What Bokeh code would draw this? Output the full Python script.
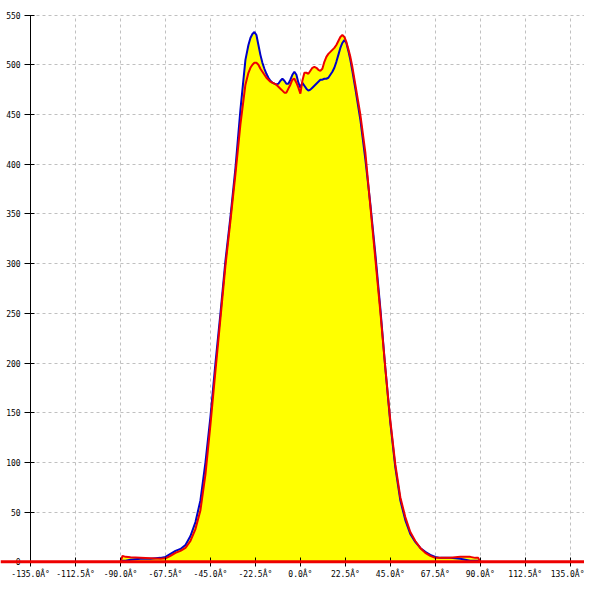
from bokeh.plotting import figure
from bokeh.models import FixedTicker, Span, Range1d
from bokeh.embed import file_html
from bokeh.resources import INLINE

# ---- data ----
angles = [-90, -89, -87.5, -85, -80, -75, -70, -67.5, -65, -62.5, -60, -57.5, -55, -52.5,
          -50, -47.5, -45, -42.5, -40, -37.5, -35, -32.5, -30, -27.5, -26, -25, -24, -23,
          -22, -21, -20, -19, -18, -17, -16, -15, -14, -13, -12, -11, -10, -9, -8, -7,
          -6, -5, -4, -3, -2, -1, 0, 1, 2, 3, 4, 5, 6, 7, 8, 9, 10, 11, 12, 13, 14, 15,
          16, 17, 18, 19, 20, 21, 22, 23, 24, 25, 26, 27.5, 30, 32.5, 35, 37.5, 40, 42.5,
          45, 47.5, 50, 52.5, 55, 57.5, 60, 62.5, 65, 67.5, 70, 75, 80, 85, 87.5, 89, 90]

blue_vals = [0, 1, 1, 2, 3, 3, 4, 5, 8, 11, 13, 17, 26, 40,
             62, 100, 146, 200, 250, 303, 347, 396, 455, 505, 520, 527, 531, 533,
             530, 520, 510, 502, 496, 491, 487, 484, 482, 481, 480, 481, 484, 486, 484, 481,
             481, 485, 490, 493, 490, 482, 477, 482, 479, 476, 474, 475, 477, 479, 481, 483, 485, 485, 486, 486, 487, 490,
             493, 497, 503, 510, 517, 522, 525, 522, 514, 505, 494, 476, 445, 405, 360, 310, 255, 195,
             140, 95, 62, 42, 28, 20, 14, 10, 7, 5, 4, 4, 3, 1, 1, 1, 0]

red_vals = [0, 6, 5, 4.5, 4, 3.5, 3, 3.5, 6, 9, 11, 14, 21, 33,
            52, 88, 138, 192, 245, 298, 343, 390, 440, 480, 492, 497, 500, 502,
            502, 500, 496, 493, 490, 487, 485, 483, 482, 481, 480, 478, 476, 474, 472, 472,
            476, 480, 485, 486, 482, 477, 471, 484, 492, 492, 491, 494, 497, 498, 497, 495, 494, 496, 503, 508, 511, 513,
            515, 517, 520, 524, 528, 530, 528, 523, 516, 508, 498, 480, 450, 412, 358, 305, 252, 195,
            142, 98, 65, 45, 30, 21, 14, 9, 6, 4, 4, 4, 5, 5, 4, 4, 0]

x_ticks = [-135, -112.5, -90, -67.5, -45, -22.5, 0, 22.5, 45, 67.5, 90, 112.5, 135]
x_tick_labels = ["-135.0Â°", "-112.5Â°", "-90.0Â°", "-67.5Â°", "-45.0Â°", "-22.5Â°", "0.0Â°",
                 "22.5Â°", "45.0Â°", "67.5Â°", "90.0Â°", "112.5Â°", "135.0Â°"]
y_ticks = [0, 50, 100, 150, 200, 250, 300, 350, 400, 450, 500, 550]

p = figure(width=584, height=584, output_backend="svg", toolbar_location=None,
           x_range=Range1d(-150.05, 142.16), y_range=Range1d(-22.8, 564.7),
           min_border=0, min_border_left=0, min_border_right=0,
           min_border_top=0, min_border_bottom=0)
p.outline_line_color = None
p.background_fill_color = "white"
p.border_fill_color = "white"

# fills
p.varea(x=angles, y1=0, y2=blue_vals, fill_color="#ffff00")
p.varea(x=angles, y1=0, y2=red_vals, fill_color="#ffff00")
# lines
p.line(angles, blue_vals, line_color="#0000c8", line_width=2)
p.line(angles, red_vals, line_color="#ee0000", line_width=2)

p.add_layout(Span(location=0, dimension="width", line_color="#ee0000", line_width=3))

# axes
for ax in p.xaxis:
    ax.fixed_location = 0
    ax.ticker = FixedTicker(ticks=x_ticks)
    ax.major_label_overrides = {(int(t) if float(t).is_integer() else t): lab
                                for t, lab in zip(x_ticks, x_tick_labels)}
    ax.bounds = (-135, 135)
    ax.major_tick_out = 5
    ax.major_tick_in = 4
    ax.minor_tick_out = 0
    ax.minor_tick_in = 0
    ax.major_label_standoff = 3
    ax.major_label_text_font = "DejaVu Sans Mono"
    ax.major_label_text_font_size = "8px"
    ax.major_label_text_color = "black"
    ax.axis_line_color = "black"

for ax in p.yaxis:
    ax.fixed_location = -135
    ax.ticker = FixedTicker(ticks=y_ticks)
    ax.bounds = (0, 550)
    ax.major_tick_out = 6
    ax.major_tick_in = 4
    ax.minor_tick_out = 0
    ax.minor_tick_in = 0
    ax.major_label_standoff = 4
    ax.major_label_text_font = "DejaVu Sans Mono"
    ax.major_label_text_font_size = "8px"
    ax.major_label_text_color = "black"
    ax.axis_line_color = "black"
    ax.major_label_orientation = "horizontal"

p.xgrid.grid_line_color = "#c0c0c0"
p.xgrid.grid_line_dash = "3 3"
p.ygrid.grid_line_color = "#c0c0c0"
p.ygrid.grid_line_dash = "3 3"
try:
    p.xgrid.cross_bounds = (0, 550)
    p.ygrid.cross_bounds = (-135, 142.16)
except Exception:
    pass

open("out.html", "w").write(file_html(p, INLINE))
